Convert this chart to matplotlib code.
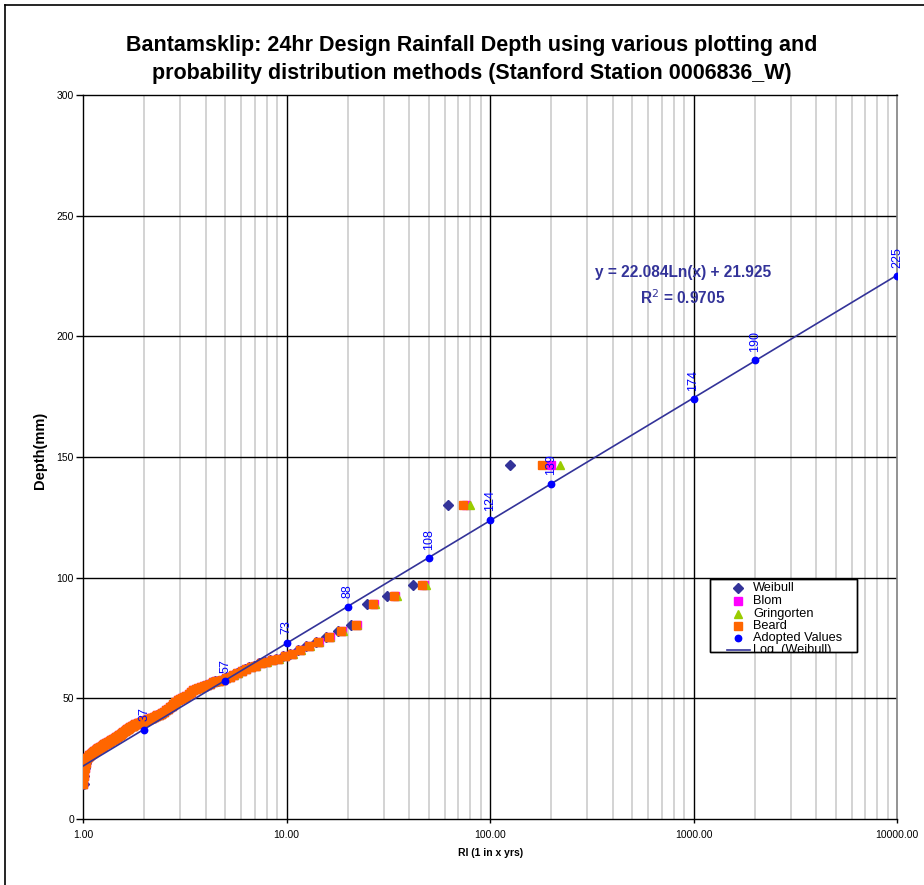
import numpy as np
import matplotlib
matplotlib.use("Agg")
import matplotlib.pyplot as plt
from matplotlib.lines import Line2D
from matplotlib.patches import Rectangle
from matplotlib.ticker import FixedLocator, FixedFormatter, NullFormatter

plt.rcParams['font.family'] = ['Liberation Sans', 'DejaVu Sans']

# ---------------- data ----------------
# annual maximum 24hr depths (mm), ranked from largest (rank 1) to smallest
depth = [146.5, 130.0, 97.0, 92.5, 89.0, 80.3, 78.0, 75.5, 73.5, 71.5,
         70.0, 68.5, 67.5, 66.5, 65.8, 65.2, 64.5, 63.5, 62.8, 62.2,
         61.5, 60.6, 59.8, 59.0, 58.3, 57.8, 57.3, 57.0, 56.6, 56.0,
         55.4, 55.0, 54.6, 54.2, 53.8, 53.3, 52.5, 51.8, 51.0, 50.6,
         50.2, 49.8, 49.2, 48.5, 47.8, 47.0, 46.3, 45.6, 45.0, 44.5,
         44.0, 43.6, 43.2, 42.9, 42.6, 42.2, 41.9, 41.7, 41.5, 41.3,
         41.0, 40.8, 40.6, 40.3, 40.1, 39.9, 39.7, 39.4, 39.2, 39.0,
         38.7, 38.4, 38.1, 37.8, 37.5, 37.2, 36.9, 36.6, 36.2, 35.8,
         35.4, 35.0, 34.7, 34.4, 34.1, 33.8, 33.5, 33.3, 33.1, 32.9,
         32.7, 32.4, 32.1, 31.9, 31.6, 31.4, 31.1, 30.9, 30.6, 30.4,
         30.2, 30.0, 29.8, 29.5, 29.3, 29.0, 28.8, 28.5, 28.3, 28.0,
         27.8, 27.5, 27.3, 27.0, 26.7, 26.4, 26.1, 25.8, 25.3, 24.5,
         23.0, 21.0, 18.0, 14.5]

# adopted design values
adopted_ri = [2, 5, 10, 20, 50, 100, 200, 1000, 2000, 10000]
adopted_depth = [37, 57, 73, 88, 108, 124, 139, 174, 190, 225]

# logarithmic trendline (fitted to Weibull) as displayed
trend_a = 22.084
trend_b = 21.925
trend_r2 = 0.9705

x_ticks = [1, 10, 100, 1000, 10000]
x_ticklabels = ["1.00", "10.00", "100.00", "1000.00", "10000.00"]
y_ticks = [0, 50, 100, 150, 200, 250, 300]

# plotting positions (return periods) for each method
n = len(depth)
rank = np.arange(1, n + 1)
ri_weibull = (n + 1) / rank
ri_blom = (n + 0.25) / (rank - 0.375)
ri_gringorten = (n + 0.12) / (rank - 0.44)
ri_beard = (n + 0.38) / (rank - 0.31)

# ---------------- figure ----------------
W, H = 924, 885
fig = plt.figure(figsize=(W / 100, H / 100), dpi=100)
fig.patch.set_facecolor("white")


def fx(px):
    return px / W


def fy(py):
    return 1 - py / H


# outer chart frame (left and top visible)
fig.add_artist(Line2D([fx(5), fx(5)], [0, fy(5)], color="black", lw=1.2,
                      transform=fig.transFigure))
fig.add_artist(Line2D([fx(5), 1], [fy(5), fy(5)], color="black", lw=1.2,
                      transform=fig.transFigure))

L, R, T, B = 83, 897, 95, 819
ax = fig.add_axes([fx(L), fy(B), (R - L) / W, (B - T) / H])
ax.set_xscale("log")
ax.set_xlim(1, 10000)
ax.set_ylim(0, 300)

# grid
minor_x = [m * 10 ** d for d in range(4) for m in range(2, 10)]
for xv in minor_x:
    ax.axvline(xv, color="#cccccc", lw=1.2, zorder=0)
for xv in x_ticks[1:-1]:
    ax.axvline(xv, color="black", lw=1.0, zorder=0.5)
for yv in y_ticks[1:-1]:
    ax.axhline(yv, color="black", lw=1.0, zorder=0.5)

for s in ["left", "bottom", "top"]:
    ax.spines[s].set_color("black")
    ax.spines[s].set_linewidth(1.0)
ax.spines["right"].set_color("#808080")
ax.spines["right"].set_linewidth(1.2)

ax.xaxis.set_major_locator(FixedLocator(x_ticks))
ax.xaxis.set_major_formatter(FixedFormatter(x_ticklabels))
ax.xaxis.set_minor_locator(FixedLocator(minor_x))
ax.xaxis.set_minor_formatter(NullFormatter())
ax.yaxis.set_major_locator(FixedLocator(y_ticks))
ax.tick_params(axis="y", which="major", direction="out", length=5, width=1,
               labelsize=7.5, color="black", pad=1.5)
ax.tick_params(axis="x", which="major", direction="out", length=3, width=1,
               labelsize=7.5, color="black", pad=5)
ax.tick_params(axis="x", which="minor", length=0)

# series
c_weib, c_blom, c_grin, c_beard = "#333399", "#ff00ff", "#99cc00", "#ff6600"
c_adopt, c_trend = "#0000ff", "#333399"
ax.plot(ri_weibull, depth, linestyle="none", marker="D", ms=4.6,
        color=c_weib, label="Weibull", zorder=3)
ax.plot(ri_blom, depth, linestyle="none", marker="s", ms=5.2,
        color=c_blom, label="Blom", zorder=3)
ax.plot(ri_gringorten, depth, linestyle="none", marker="^", ms=5.8,
        color=c_grin, label="Gringorten", zorder=3)
ax.plot(ri_beard, depth, linestyle="none", marker="s", ms=5.2,
        color=c_beard, label="Beard", zorder=3)

xt = np.logspace(0, 4, 200)
ax.plot(xt, trend_a * np.log(xt) + trend_b, color=c_trend, lw=1.2,
        zorder=4, label="Log. (Weibull)")

ax.plot(adopted_ri, adopted_depth, linestyle="none", marker="o", ms=4.6,
        color=c_adopt, label="Adopted Values", zorder=5)

for xv, yv in zip(adopted_ri, adopted_depth):
    ax.annotate(f"{yv}", (xv, yv), xytext=(0, 6), textcoords="offset points",
                rotation=90, ha="center", va="bottom", fontsize=9,
                color="#0000ff", zorder=6)

# equation
ax.text((683 - L) / (R - L), 1 - (273 - T) / (B - T),
        f"y = {trend_a}Ln(x) + {trend_b}", transform=ax.transAxes,
        ha="center", va="center", fontsize=11.2, fontweight="bold",
        color="#333399")
ax.text((683 - L) / (R - L), 1 - (298 - T) / (B - T),
        f"R$^2$ = {trend_r2}", transform=ax.transAxes,
        ha="center", va="center", fontsize=11.2, fontweight="bold",
        color="#333399")

# legend (Excel-style box)
lx0, ly0, lx1, ly1 = 710, 579, 857, 652
box = Rectangle((fx(lx0), fy(ly1)), fx(lx1) - fx(lx0), fy(ly0) - fy(ly1),
                transform=fig.transFigure, facecolor="white",
                edgecolor="black", lw=1.0, zorder=10)
fig.add_artist(box)
clip = Rectangle((fx(lx0), fy(ly1)), fx(lx1) - fx(lx0), fy(ly0) - fy(ly1),
                 transform=fig.transFigure, facecolor="none", edgecolor="none")
fig.add_artist(clip)
leg_entries = [
    ("Weibull", dict(marker="D", ms=4.6, color=c_weib, linestyle="none")),
    ("Blom", dict(marker="s", ms=5.2, color=c_blom, linestyle="none")),
    ("Gringorten", dict(marker="^", ms=5.8, color=c_grin, linestyle="none")),
    ("Beard", dict(marker="s", ms=5.2, color=c_beard, linestyle="none")),
    ("Adopted Values", dict(marker="o", ms=4.6, color=c_adopt, linestyle="none")),
    ("Log. (Weibull)", dict(color=c_trend, lw=1.2)),
]
row_y = [588, 601, 613.5, 626, 638, 650]
for (lab, sty), ry in zip(leg_entries, row_y):
    if "marker" in sty:
        fig.add_artist(Line2D([fx(738)], [fy(ry)], transform=fig.transFigure,
                              zorder=11, **sty))
    else:
        fig.add_artist(Line2D([fx(727), fx(750)], [fy(ry), fy(ry)],
                              transform=fig.transFigure, zorder=11, **sty))
    t = fig.text(fx(753), fy(ry), lab, ha="left", va="center", fontsize=9.2,
                 zorder=11)
    t.set_clip_path(clip)
# redraw box border on top
fig.add_artist(Rectangle((fx(lx0), fy(ly1)), fx(lx1) - fx(lx0), fy(ly0) - fy(ly1),
                         transform=fig.transFigure, facecolor="none",
                         edgecolor="black", lw=1.0, zorder=12))

# titles
fig.text(fx(472), fy(46),
         "Bantamsklip: 24hr Design Rainfall Depth using various plotting and",
         ha="center", va="center", fontsize=15.5, fontweight="bold")
fig.text(fx(472), fy(74),
         "probability distribution methods (Stanford Station 0006836_W)",
         ha="center", va="center", fontsize=15.5, fontweight="bold")
fig.text(fx(491), fy(853), "RI (1 in x yrs)", ha="center", va="center",
         fontsize=7.5, fontweight="bold")
fig.text(fx(40), fy(450), "Depth(mm)", ha="center", va="center",
         fontsize=10.5, fontweight="bold", rotation=90)

fig.savefig("out.png", dpi=100)
